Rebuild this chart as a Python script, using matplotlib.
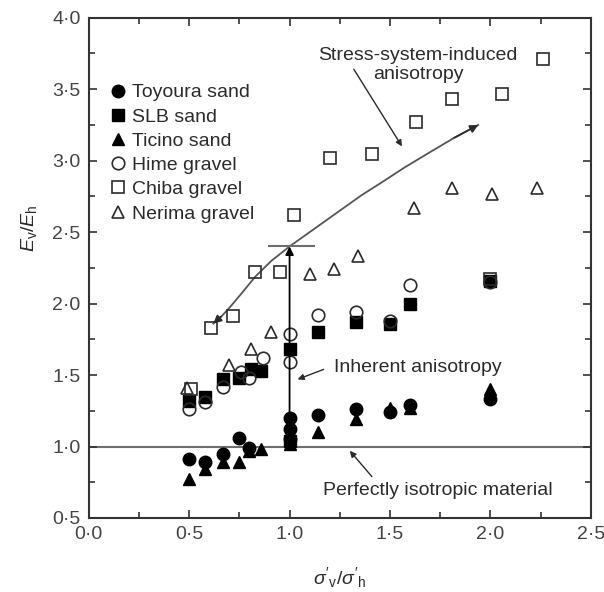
import matplotlib
matplotlib.use("Agg")
import matplotlib.pyplot as plt
from matplotlib.ticker import MultipleLocator, FuncFormatter

plt.rcParams['font.family'] = ['Liberation Sans', 'DejaVu Sans']
plt.rcParams['mathtext.fontset'] = 'custom'
plt.rcParams['mathtext.rm'] = 'Liberation Sans'
plt.rcParams['mathtext.it'] = 'Liberation Sans:italic'
plt.rcParams['mathtext.bf'] = 'Liberation Sans:bold'

# data
toyoura_x = [0.50, 0.58, 0.67, 0.75, 0.80, 1.00, 1.00, 1.00, 1.14, 1.33, 1.50, 1.60, 2.00]
toyoura_y = [0.91, 0.89, 0.95, 1.06, 0.99, 1.20, 1.12, 1.05, 1.22, 1.26, 1.24, 1.29, 1.33]

slb_x = [0.50, 0.58, 0.67, 0.75, 0.81, 0.86, 1.00, 1.00, 1.14, 1.33, 1.50, 1.60, 2.00]
slb_y = [1.32, 1.35, 1.47, 1.48, 1.54, 1.53, 1.68, 1.04, 1.80, 1.87, 1.86, 2.00, 2.16]

ticino_x = [0.50, 0.58, 0.67, 0.75, 0.80, 0.86, 1.00, 1.00, 1.14, 1.33, 1.50, 1.60, 2.00]
ticino_y = [0.77, 0.84, 0.89, 0.89, 0.97, 0.98, 1.08, 1.02, 1.10, 1.19, 1.27, 1.27, 1.40]

hime_x = [0.50, 0.58, 0.67, 0.76, 0.80, 0.87, 1.00, 1.00, 1.14, 1.33, 1.50, 1.60, 2.00]
hime_y = [1.26, 1.31, 1.42, 1.52, 1.48, 1.62, 1.59, 1.79, 1.92, 1.94, 1.88, 2.13, 2.15]

chiba_x = [0.51, 0.61, 0.72, 0.83, 0.95, 1.02, 1.20, 1.41, 1.63, 1.81, 2.06, 2.26, 2.00]
chiba_y = [1.40, 1.83, 1.91, 2.22, 2.22, 2.62, 3.02, 3.05, 3.27, 3.43, 3.47, 3.71, 2.17]

nerima_x = [0.49, 0.70, 0.81, 0.91, 1.10, 1.22, 1.34, 1.62, 1.81, 2.01, 2.23]
nerima_y = [1.41, 1.57, 1.68, 1.80, 2.21, 2.24, 2.33, 2.67, 2.81, 2.77, 2.81]

# trend curve (stress-system-induced anisotropy)
trend_x = [0.62, 0.66, 0.70, 0.76, 0.83, 0.91, 1.00, 1.09, 1.18, 1.27, 1.36, 1.45, 1.57, 1.70, 1.82, 1.94]
trend_y = [1.86, 1.91, 1.97, 2.07, 2.19, 2.30, 2.40, 2.49, 2.58, 2.67, 2.76, 2.84, 2.95, 3.06, 3.16, 3.25]

ink = '#2b2b2b'

fig = plt.figure(figsize=(6.04, 5.92), dpi=100)
ax = fig.add_axes([0.147, 0.125, 0.831, 0.845])

ms = 9
mew = 1.2
ax.plot(toyoura_x, toyoura_y, 'o', ms=ms, color='black', label='Toyoura sand')
ax.plot(slb_x, slb_y, 's', ms=ms - 1, color='black', label='SLB sand')
ax.plot(ticino_x, ticino_y, '^', ms=ms, color='black', label='Ticino sand')
ax.plot(hime_x, hime_y, 'o', ms=ms, mfc='none', mec=ink, mew=mew, label='Hime gravel')
ax.plot(chiba_x, chiba_y, 's', ms=ms - 1, mfc='none', mec=ink, mew=mew, label='Chiba gravel')
ax.plot(nerima_x, nerima_y, '^', ms=ms, mfc='none', mec=ink, mew=mew, label='Nerima gravel')

# isotropic line
ax.axhline(1.0, color='#6e6e6e', lw=1.5, zorder=1)

# trend curve with arrow heads at both ends
ax.plot(trend_x, trend_y, color='#555555', lw=1.3, zorder=1)
head = dict(arrowstyle='-|>', color=ink, lw=1.2, mutation_scale=12, shrinkA=0, shrinkB=0)
ax.annotate('', xy=(trend_x[-1], trend_y[-1]), xytext=(trend_x[-2], trend_y[-2]), arrowprops=head)
ax.annotate('', xy=(trend_x[0], trend_y[0]), xytext=(trend_x[1], trend_y[1]), arrowprops=head)

# inherent -> induced vertical arrow
ax.annotate('', xy=(1.0, 2.40), xytext=(1.0, 1.0),
            arrowprops=dict(arrowstyle='-|>', color='black', lw=1.3, mutation_scale=12, shrinkA=0, shrinkB=0))
ax.plot([0.90, 1.12], [2.40, 2.40], color='#6e6e6e', lw=1.5)

txt_kw = dict(fontsize=14, color=ink)
small = dict(arrowstyle='-|>', color=ink, lw=1.0, mutation_scale=9, shrinkA=0, shrinkB=0)
ax.text(1.64, 3.67, 'Stress-system-induced\nanisotropy', ha='center', va='center',
        linespacing=1.1, **txt_kw)
ax.annotate('', xy=(1.56, 3.10), xytext=(1.32, 3.64), arrowprops=small)

ax.text(1.22, 1.55, 'Inherent anisotropy', ha='left', va='center', **txt_kw)
ax.annotate('', xy=(1.04, 1.47), xytext=(1.17, 1.54), arrowprops=small)

ax.text(1.74, 0.69, 'Perfectly isotropic material', ha='center', va='center', **txt_kw)
ax.annotate('', xy=(1.30, 0.97), xytext=(1.41, 0.79), arrowprops=small)

ax.set_xlim(0, 2.5)
ax.set_ylim(0.5, 4.0)
ax.xaxis.set_major_locator(MultipleLocator(0.5))
ax.xaxis.set_minor_locator(MultipleLocator(0.25))
ax.yaxis.set_major_locator(MultipleLocator(0.5))
ax.yaxis.set_minor_locator(MultipleLocator(0.25))
dot = FuncFormatter(lambda v, p: f'{v:.1f}'.replace('.', '\u00b7'))
ax.xaxis.set_major_formatter(dot)
ax.yaxis.set_major_formatter(dot)
ax.tick_params(which='both', direction='in', top=True, right=True, color='#333333',
               labelsize=14, labelcolor='#444444', width=1.2)
ax.tick_params(which='major', length=6, pad=6)
ax.tick_params(which='minor', length=4)
for s in ax.spines.values():
    s.set_color('#333333')
    s.set_linewidth(1.5)

ax.set_xlabel(r"$\sigma'_\mathrm{v}/\sigma'_\mathrm{h}$", fontsize=14, color=ink, labelpad=16)
ax.set_ylabel(r'$E_\mathrm{v}/E_\mathrm{h}$', fontsize=14, color=ink)
ax.yaxis.set_label_coords(-0.10, 0.58)

ax.legend(loc='upper left', bbox_to_anchor=(0.038, 0.868), frameon=False, fontsize=14,
          borderpad=0, borderaxespad=0, handlelength=1.0, handletextpad=0.25,
          labelspacing=0.34, labelcolor=ink)

fig.savefig('out.png', dpi=100)
